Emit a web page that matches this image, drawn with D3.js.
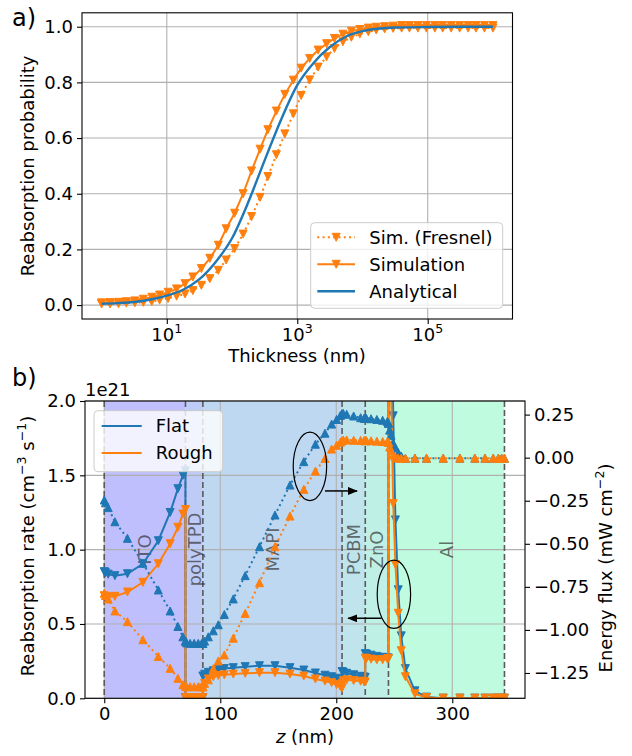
<!DOCTYPE html>
<html>
<head>
<meta charset="utf-8">
<script src="https://cdn.jsdelivr.net/npm/d3@7"></script>
<style>
body { margin: 0; background: #fff; }
svg { display: block; font-family: "DejaVu Sans", sans-serif; }
</style>
</head>
<body>
<svg id="chart" width="632" height="756"></svg>
<script>
// ---------- panel a data ----------
var logThickness = [0.00, 0.13, 0.26, 0.38, 0.51, 0.64, 0.77, 0.89, 1.02, 1.15, 1.28, 1.40,
  1.53, 1.66, 1.79, 1.91, 2.04, 2.17, 2.30, 2.43, 2.55, 2.68, 2.81, 2.94,
  3.06, 3.19, 3.32, 3.45, 3.57, 3.70, 3.83, 3.96, 4.09, 4.21, 4.34, 4.47,
  4.60, 4.72, 4.85, 4.98, 5.11, 5.23, 5.36, 5.49, 5.62, 5.74, 5.87, 6.00];
var simFresnel = [0.004, 0.004, 0.005, 0.007, 0.008, 0.010, 0.013, 0.018, 0.024, 0.032, 0.040, 0.052,
  0.071, 0.095, 0.125, 0.162, 0.203, 0.255, 0.318, 0.387, 0.462, 0.540, 0.615, 0.687,
  0.753, 0.809, 0.855, 0.892, 0.922, 0.946, 0.962, 0.974, 0.982, 0.988, 0.992, 0.994,
  0.995, 0.995, 0.995, 0.995, 0.995, 0.995, 0.995, 0.995, 0.995, 0.995, 0.995, 0.995];
var simulation = [0.008, 0.009, 0.010, 0.012, 0.015, 0.021, 0.028, 0.036, 0.046, 0.058, 0.077, 0.101,
  0.131, 0.168, 0.215, 0.274, 0.330, 0.400, 0.482, 0.560, 0.630, 0.697, 0.757, 0.808,
  0.851, 0.886, 0.916, 0.939, 0.958, 0.973, 0.984, 0.990, 0.995, 0.998, 1.000, 1.002,
  1.004, 1.004, 1.004, 1.004, 1.004, 1.004, 1.004, 1.004, 1.004, 1.004, 1.004, 1.004];
var logThicknessAnalytical = [0, 0.25, 0.5, 0.75, 1, 1.25, 1.5, 1.75, 2, 2.25, 2.5, 2.75, 3,
  3.25, 3.5, 3.75, 4, 4.5, 5, 5.5, 6];
var analytical = [0.005, 0.007, 0.011, 0.020, 0.034, 0.055, 0.093, 0.155, 0.240, 0.370, 0.520,
  0.665, 0.790, 0.870, 0.927, 0.965, 0.984, 0.997, 0.999, 1.0, 1.0];
var xTicksA = [10, 1000, 100000];
var xTickExpA = ["1", "3", "5"];
var yTicksA = [0, 0.2, 0.4, 0.6, 0.8, 1.0];

// ---------- panel b data ----------
var layerEdges = [0, 70, 85, 205, 225, 245, 345];
var layerNames = ["ITO", "polyTPD", "MAPI", "PCBM", "ZnO", "Al"];
var layerColors = ["#bfbffd", "#bfcbf7", "#bfd8f1", "#bfe4ec", "#bff0e5", "#bffcdf"];

var zGrid = [
  0, 1, 3.4, 9.2, 20, 33.3, 46.6, 56.8, 63.5, 67.8, 70,
  70, 71, 74, 77.5, 81, 84, 85,
  85, 86.5, 89.7, 94, 98.3, 103.5, 111.2, 121.5, 133.8, 147.2, 160.1, 172, 182, 190.3, 196, 200.3, 203.5, 205,
  205, 206, 209, 215, 221, 224, 225,
  225, 226, 230, 235, 240, 244, 245,
  245, 246, 247.2, 249.1, 251, 253.4, 256, 259.6, 267.8, 277.8, 292.2, 306.6, 319.5, 328.2, 335.3, 339.7, 342.5, 345];
var rateFlat = [
  0.852, 0.845, 0.835, 0.825, 0.838, 0.905, 1.06, 1.25, 1.41, 1.50, 1.53,
  0.004, 0.004, 0.004, 0.004, 0.004, 0.004, 0.004,
  0.15, 0.162, 0.175, 0.185, 0.193, 0.2, 0.206, 0.213, 0.219, 0.219, 0.206, 0.19, 0.17, 0.155, 0.145, 0.135, 0.125, 0.115,
  0.18, 0.176, 0.168, 0.158, 0.148, 0.143, 0.141,
  0.30, 0.298, 0.29, 0.282, 0.276, 0.272, 0.27,
  40, 8, 3.5, 1.9, 1.2, 0.73, 0.42, 0.2, 0.05, 0.008, 0.001, 0.001, 0.001, 0.001, 0.001, 0.001, 0.001, 0.001];
var rateRough = [
  0.69, 0.685, 0.682, 0.686, 0.715, 0.78, 0.905, 1.04, 1.15, 1.24, 1.27,
  0.003, 0.003, 0.003, 0.003, 0.003, 0.003, 0.003,
  0.07, 0.10, 0.13, 0.145, 0.153, 0.158, 0.163, 0.168, 0.172, 0.172, 0.163, 0.15, 0.13, 0.116, 0.105, 0.092, 0.08, 0.07,
  0.10, 0.118, 0.124, 0.12, 0.115, 0.112, 0.11,
  0.27, 0.268, 0.263, 0.259, 0.26, 0.265, 0.268,
  40, 5, 2.1, 1.31, 0.9, 0.572, 0.32, 0.145, 0.03, 0.005, 0.001, 0.001, 0.001, 0.001, 0.001, 0.001, 0.001, 0.001];
var fluxFlat = [
  -0.246, -0.262, -0.29, -0.372, -0.468, -0.613, -0.768, -0.89, -0.98, -1.04, -1.065,
  -1.065, -1.075, -1.078, -1.078, -1.078, -1.078, -1.078,
  -1.078, -1.065, -1.04, -1.005, -0.97, -0.91, -0.82, -0.685, -0.517, -0.333, -0.159, -0.023, 0.078, 0.142, 0.195, 0.222, 0.245, 0.255,
  0.255, 0.257, 0.252, 0.242, 0.232, 0.229, 0.228,
  0.228, 0.228, 0.226, 0.222, 0.217, 0.21, 0.2,
  0.2, 0.16, 0.13, 0.084, 0.058, 0.03, 0.01, -0.003, -0.003, -0.003, -0.003, -0.003, -0.003, -0.003, -0.003, -0.003, -0.003, -0.003];
var fluxRough = [
  -0.787, -0.80, -0.82, -0.89, -0.952, -1.057, -1.154, -1.223, -1.281, -1.318, -1.325,
  -1.325, -1.33, -1.33, -1.33, -1.33, -1.33, -1.33,
  -1.33, -1.31, -1.29, -1.225, -1.18, -1.145, -1.048, -0.904, -0.726, -0.517, -0.339, -0.184, -0.078, -0.005, 0.05, 0.072, 0.09, 0.098,
  0.098, 0.103, 0.103, 0.101, 0.1, 0.099, 0.099,
  0.099, 0.099, 0.098, 0.096, 0.094, 0.093, 0.09,
  0.09, 0.062, 0.04, 0.015, 0.004, -0.003, -0.003, -0.003, -0.003, -0.003, -0.003, -0.003, -0.003, -0.003, -0.003, -0.003, -0.003, -0.003];
var xTicksB = [0, 100, 200, 300];
var yTicksB = [0, 0.5, 1.0, 1.5, 2.0];
var yTicksB2 = [0.25, 0, -0.25, -0.5, -0.75, -1.0, -1.25];
// ellipse centre (z, rate) and half sizes, arrows from/to (z, rate)
var ellipses = [[177.3, 1.56, 14.4, 0.23], [249.7, 0.70, 14.4, 0.23]];
var arrows = [[[190.3, 1.395], [217.8, 1.395]], [[239.1, 0.538], [210.3, 0.538]]];

var blue = "#1f77b4", orange = "#ff7f0e";
var fs = 18;
var svg = d3.select("#chart");

function triDown(s) { return "M0," + s + "L" + (-s) + "," + (-s) + "L" + s + "," + (-s) + "Z"; }
function triUp(s) { return "M0," + (-s) + "L" + (-s) + "," + s + "L" + s + "," + s + "Z"; }

function styleAxis(g) {
  g.attr("font-size", fs).attr("font-family", "DejaVu Sans");
  g.select(".domain").remove();
  g.selectAll(".tick line").attr("stroke", "#000").attr("stroke-width", 1.1);
  g.selectAll(".tick text").attr("fill", "#000");
}

svg.append("defs").append("marker")
  .attr("id", "arrowhead").attr("viewBox", "0 0 10 8")
  .attr("refX", 9).attr("refY", 4)
  .attr("markerWidth", 10).attr("markerHeight", 8)
  .attr("markerUnits", "userSpaceOnUse").attr("orient", "auto")
  .append("path").attr("d", "M0,0L10,4L0,8Z").attr("fill", "#000");

// ================= panel a =================
var xA = d3.scaleLog().domain([Math.pow(10, -0.3), Math.pow(10, 6.3)]).range([82, 512.5]);
var yA = d3.scaleLinear().domain([-0.05, 1.05]).range([319, 12.8]);
var a = svg.append("g");

a.append("g").selectAll("line").data(xTicksA).join("line")
  .attr("x1", d => xA(d)).attr("x2", d => xA(d))
  .attr("y1", yA.range()[0]).attr("y2", yA.range()[1])
  .attr("stroke", "#b0b0b0").attr("stroke-width", 1.1);
a.append("g").selectAll("line").data(yTicksA).join("line")
  .attr("x1", xA.range()[0]).attr("x2", xA.range()[1])
  .attr("y1", d => yA(d)).attr("y2", d => yA(d))
  .attr("stroke", "#b0b0b0").attr("stroke-width", 1.1);

var lineA = d3.line().x(d => xA(d[0])).y(d => yA(d[1]));
var fresPts = logThickness.map((e, i) => [Math.pow(10, e), simFresnel[i]]);
var simPts = logThickness.map((e, i) => [Math.pow(10, e), simulation[i]]);
var anaPts = logThicknessAnalytical.map((e, i) => [Math.pow(10, e), analytical[i]]);

a.append("path").datum(fresPts).attr("d", lineA)
  .attr("fill", "none").attr("stroke", orange).attr("stroke-width", 2)
  .attr("stroke-dasharray", "2,3.3");
a.append("g").selectAll("path").data(fresPts).join("path")
  .attr("d", triDown(4)).attr("transform", d => "translate(" + xA(d[0]) + "," + yA(d[1]) + ")")
  .attr("fill", orange).attr("stroke", orange).attr("stroke-width", 1);
a.append("path").datum(simPts).attr("d", lineA)
  .attr("fill", "none").attr("stroke", orange).attr("stroke-width", 2);
a.append("g").selectAll("path").data(simPts).join("path")
  .attr("d", triDown(4)).attr("transform", d => "translate(" + xA(d[0]) + "," + yA(d[1]) + ")")
  .attr("fill", orange).attr("stroke", orange).attr("stroke-width", 1);
a.append("path").datum(anaPts).attr("d", lineA.curve(d3.curveMonotoneX))
  .attr("fill", "none").attr("stroke", blue).attr("stroke-width", 2.4);

// legend a
var legA = a.append("g").attr("transform", "translate(310.7,222.7)");
legA.append("rect").attr("width", 192).attr("height", 85.6).attr("rx", 4)
  .attr("fill", "#fff").attr("fill-opacity", 0.8).attr("stroke", "#cccccc").attr("stroke-width", 1);
var legItemsA = [
  { label: "Sim. (Fresnel)", color: orange, dash: "2,3.3", marker: true },
  { label: "Simulation", color: orange, dash: null, marker: true },
  { label: "Analytical", color: blue, dash: null, marker: false }
];
legItemsA.forEach(function (d, i) {
  var cy = 14.6 + i * 27;
  legA.append("line").attr("x1", 6.6).attr("x2", 44.3).attr("y1", cy).attr("y2", cy)
    .attr("stroke", d.color).attr("stroke-width", d.marker ? 2 : 2.4)
    .attr("stroke-dasharray", d.dash);
  if (d.marker) {
    legA.append("path").attr("d", triDown(4)).attr("transform", "translate(25.5," + cy + ")")
      .attr("fill", d.color).attr("stroke", d.color);
  }
  legA.append("text").attr("x", 58.5).attr("y", cy).attr("dy", "0.36em")
    .attr("font-size", fs).text(d.label);
});

// frame + axes a
a.append("rect").attr("x", 82).attr("y", 12.8).attr("width", 512.5 - 82).attr("height", 319 - 12.8)
  .attr("fill", "none").attr("stroke", "#000").attr("stroke-width", 1.1);
var axA = a.append("g").attr("transform", "translate(0,319)")
  .call(d3.axisBottom(xA).tickValues(xTicksA).tickFormat("").tickSize(5).tickSizeOuter(0));
styleAxis(axA);
xTicksA.forEach(function (t, i) {
  var tx = a.append("text").attr("x", xA(t)).attr("y", 341).attr("text-anchor", "middle").attr("font-size", fs);
  tx.append("tspan").text("10");
  tx.append("tspan").attr("dy", -8).attr("font-size", 12.6).text(xTickExpA[i]);
});
var ayA = a.append("g").attr("transform", "translate(82,0)")
  .call(d3.axisLeft(yA).tickValues(yTicksA).tickFormat(d3.format(".1f")).tickSize(5).tickPadding(4).tickSizeOuter(0));
styleAxis(ayA);

a.append("text").attr("x", 297).attr("y", 362).attr("text-anchor", "middle").attr("font-size", fs).text("Thickness (nm)");
a.append("text").attr("transform", "translate(34,166) rotate(-90)").attr("text-anchor", "middle")
  .attr("font-size", fs).text("Reabsorption probability");
a.append("text").attr("x", 12).attr("y", 26).attr("font-size", 24).text("a)");

// ================= panel b =================
var xB = d3.scaleLinear().domain([-16.6, 362.7]).range([85, 525]);
var yB = d3.scaleLinear().domain([0, 2]).range([698.3, 401]);
var yB2 = d3.scaleLinear().domain([-1.397, 0.329]).range([698.3, 401]);
var b = svg.append("g");

svg.select("defs").append("clipPath").attr("id", "clipB").append("rect")
  .attr("x", 85).attr("y", 401).attr("width", 440).attr("height", 297.3);

// layer spans
b.append("g").selectAll("rect").data(layerNames).join("rect")
  .attr("x", (d, i) => xB(layerEdges[i])).attr("width", (d, i) => xB(layerEdges[i + 1]) - xB(layerEdges[i]))
  .attr("y", 401).attr("height", 297.3).attr("fill", (d, i) => layerColors[i]);

// grid
b.append("g").selectAll("line").data(xTicksB).join("line")
  .attr("x1", d => xB(d)).attr("x2", d => xB(d)).attr("y1", 401).attr("y2", 698.3)
  .attr("stroke", "#b0b0b0").attr("stroke-width", 1.1);
b.append("g").selectAll("line").data(yTicksB).join("line")
  .attr("x1", 85).attr("x2", 525).attr("y1", d => yB(d)).attr("y2", d => yB(d))
  .attr("stroke", "#b0b0b0").attr("stroke-width", 1.1);

// layer boundaries
b.append("g").selectAll("line").data(layerEdges).join("line")
  .attr("x1", d => xB(d)).attr("x2", d => xB(d)).attr("y1", 401).attr("y2", 698.3)
  .attr("stroke", "#5a5a5a").attr("stroke-width", 1.6).attr("stroke-dasharray", "6,3");

// layer names
b.append("g").selectAll("text").data(layerNames).join("text")
  .attr("transform", (d, i) => "translate(" + xB((layerEdges[i] + layerEdges[i + 1]) / 2) + ",549.5) rotate(-90)")
  .attr("text-anchor", "middle").attr("dy", "0.36em").attr("font-size", fs)
  .attr("fill", "#333").attr("fill-opacity", 0.7).text(d => d);

// rates (left axis)
var plotB = b.append("g").attr("clip-path", "url(#clipB)");
var lineRate = d3.line().x(d => xB(d[0])).y(d => yB(d[1]));
[[rateFlat, blue], [rateRough, orange]].forEach(function (s) {
  var pts = zGrid.map((z, i) => [z, s[0][i]]);
  plotB.append("path").datum(pts).attr("d", lineRate)
    .attr("fill", "none").attr("stroke", s[1]).attr("stroke-width", 2);
  plotB.append("g").selectAll("path").data(pts).join("path")
    .attr("d", triDown(4)).attr("transform", d => "translate(" + xB(d[0]) + "," + yB(d[1]) + ")")
    .attr("fill", s[1]).attr("stroke", s[1]).attr("stroke-width", 1);
});

// legend b
var legB = b.append("g").attr("transform", "translate(94,410.7)");
legB.append("rect").attr("width", 128.7).attr("height", 61).attr("rx", 4)
  .attr("fill", "#fff").attr("fill-opacity", 0.8).attr("stroke", "#cccccc").attr("stroke-width", 1);
[["Flat", blue], ["Rough", orange]].forEach(function (d, i) {
  var cy = 15.3 + i * 27;
  legB.append("line").attr("x1", 7.7).attr("x2", 47.7).attr("y1", cy).attr("y2", cy)
    .attr("stroke", d[1]).attr("stroke-width", 2);
  legB.append("text").attr("x", 61.7).attr("y", cy).attr("dy", "0.36em").attr("font-size", fs).text(d[0]);
});

// fluxes (right axis)
var plotB2 = b.append("g").attr("clip-path", "url(#clipB)");
var lineFlux = d3.line().x(d => xB(d[0])).y(d => yB2(d[1]));
[[fluxFlat, blue], [fluxRough, orange]].forEach(function (s) {
  var pts = zGrid.map((z, i) => [z, s[0][i]]);
  plotB2.append("path").datum(pts).attr("d", lineFlux)
    .attr("fill", "none").attr("stroke", s[1]).attr("stroke-width", 2).attr("stroke-dasharray", "2,3.3");
  plotB2.append("g").selectAll("path").data(pts).join("path")
    .attr("d", triUp(4)).attr("transform", d => "translate(" + xB(d[0]) + "," + yB2(d[1]) + ")")
    .attr("fill", s[1]).attr("stroke", s[1]).attr("stroke-width", 1);
});

// annotations
b.append("g").selectAll("ellipse").data(ellipses).join("ellipse")
  .attr("cx", d => xB(d[0])).attr("cy", d => yB(d[1]))
  .attr("rx", d => xB(d[0] + d[2]) - xB(d[0])).attr("ry", d => yB(d[1]) - yB(d[1] + d[3]))
  .attr("fill", "none").attr("stroke", "#000").attr("stroke-width", 1.2);
b.append("g").selectAll("line").data(arrows).join("line")
  .attr("x1", d => xB(d[0][0])).attr("y1", d => yB(d[0][1]))
  .attr("x2", d => xB(d[1][0])).attr("y2", d => yB(d[1][1]))
  .attr("stroke", "#000").attr("stroke-width", 1.5).attr("marker-end", "url(#arrowhead)");

// frame + axes b
b.append("rect").attr("x", 85).attr("y", 401).attr("width", 440).attr("height", 297.3)
  .attr("fill", "none").attr("stroke", "#000").attr("stroke-width", 1.1);
var axB = b.append("g").attr("transform", "translate(0,698.3)")
  .call(d3.axisBottom(xB).tickValues(xTicksB).tickFormat(d3.format("d")).tickSize(5).tickPadding(4).tickSizeOuter(0));
styleAxis(axB);
var ayB = b.append("g").attr("transform", "translate(85,0)")
  .call(d3.axisLeft(yB).tickValues(yTicksB).tickFormat(d3.format(".1f")).tickSize(5).tickPadding(4).tickSizeOuter(0));
styleAxis(ayB);
var ayB2 = b.append("g").attr("transform", "translate(525,0)")
  .call(d3.axisRight(yB2).tickValues(yTicksB2)
    .tickFormat(d => (d < 0 ? "\u2212" : "") + Math.abs(d).toFixed(2)).tickSize(5).tickPadding(4).tickSizeOuter(0));
styleAxis(ayB2);

b.append("text").attr("x", 85).attr("y", 396).attr("font-size", fs).text("1e21");
b.append("text").attr("x", 12).attr("y", 386).attr("font-size", 24).text("b)");

var xl = b.append("text").attr("x", 305).attr("y", 743).attr("text-anchor", "middle").attr("font-size", fs);
xl.append("tspan").attr("font-style", "italic").text("z");
xl.append("tspan").text(" (nm)");

var yl = b.append("text").attr("transform", "translate(34,546) rotate(-90)").attr("text-anchor", "middle").attr("font-size", fs);
yl.append("tspan").text("Reabsorption rate (cm");
yl.append("tspan").attr("dy", -8).attr("font-size", 12.6).text("\u22123");
yl.append("tspan").attr("dy", 8).text(" s");
yl.append("tspan").attr("dy", -8).attr("font-size", 12.6).text("\u22121");
yl.append("tspan").attr("dy", 8).text(")");

var yr = b.append("text").attr("transform", "translate(612,568) rotate(-90)").attr("text-anchor", "middle").attr("font-size", fs);
yr.append("tspan").text("Energy flux (mW cm");
yr.append("tspan").attr("dy", -8).attr("font-size", 12.6).text("\u22122");
yr.append("tspan").attr("dy", 8).text(")");
</script>
</body>
</html>
